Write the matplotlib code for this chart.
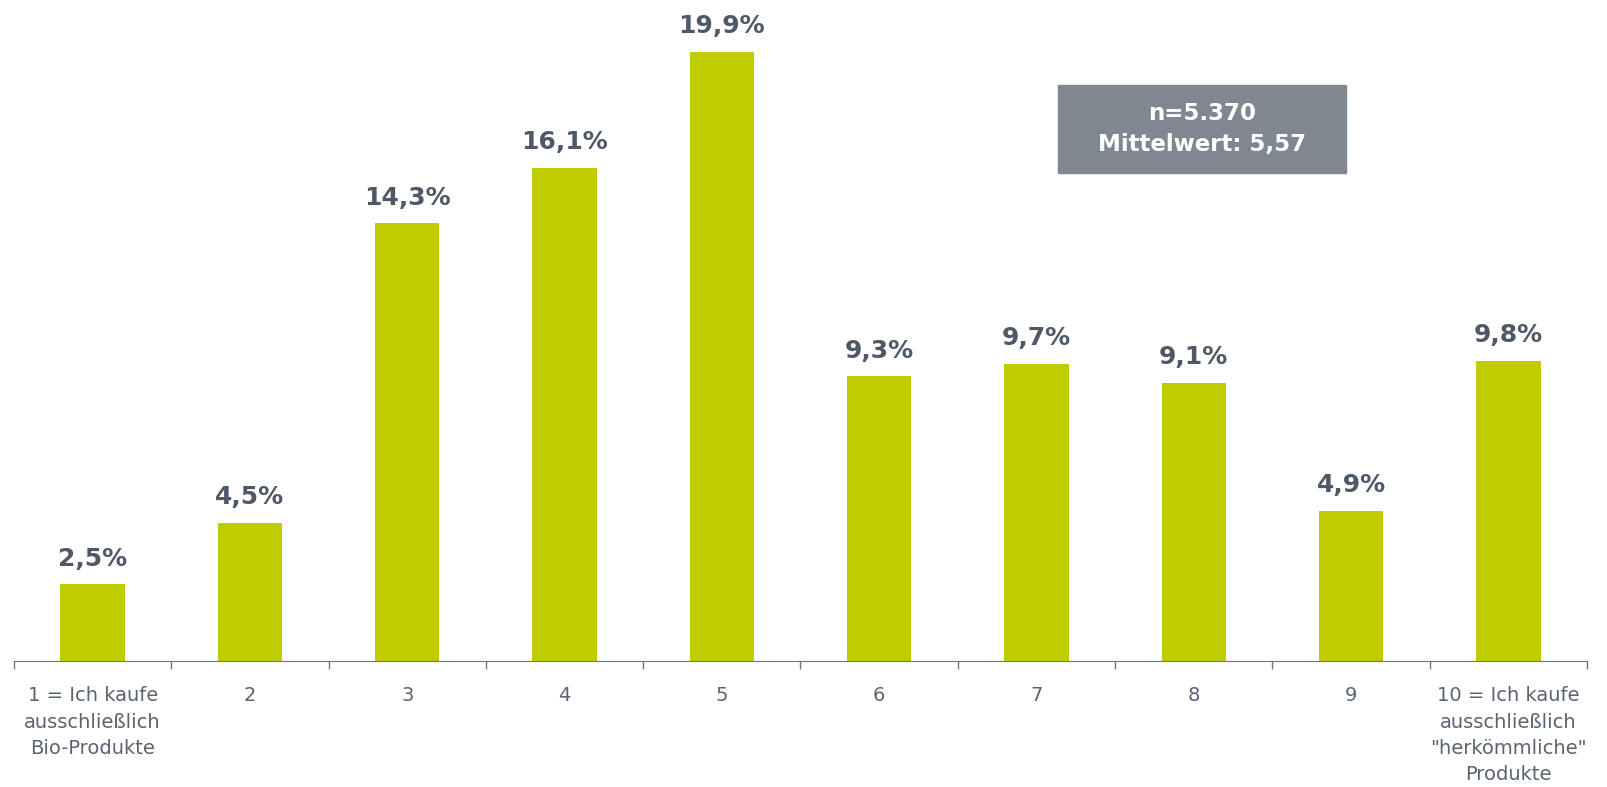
import numpy as np
import matplotlib.pyplot as plt

categories = ['1 = Ich kaufe\nausschließlich\nBio-Produkte', '2', '3', '4', '5', '6', '7', '8', '9',
              '10 = Ich kaufe\nausschließlich\n"herkömmliche"\nProdukte']
values = [2.5, 4.5, 14.3, 16.1, 19.9, 9.3, 9.7, 9.1, 4.9, 9.8]
value_labels = ['2,5%', '4,5%', '14,3%', '16,1%', '19,9%', '9,3%', '9,7%', '9,1%', '4,9%', '9,8%']
info_text = 'n=5.370\nMittelwert: 5,57'

bar_color = '#bfcd00'
text_color = '#4e5866'
axis_color = '#6e7682'

fig = plt.figure(figsize=(16.08, 7.87), dpi=100)
ax = fig.add_axes([14 / 1608, 1 - 661 / 787, 1573 / 1608, 661 / 787])

x = np.arange(len(values))
bars = ax.bar(x, values, width=0.41, color=bar_color)
for b, lab in zip(bars, value_labels):
    ax.annotate(lab, (b.get_x() + b.get_width() / 2, b.get_height()),
                xytext=(0, 10), textcoords='offset points', ha='center', va='bottom',
                fontsize=18, fontweight='bold', color=text_color)

ax.set_xlim(-0.5, len(values) - 0.5)
ax.set_ylim(0, 21.6)

ax.set_xticks(x)
ax.set_xticklabels(categories, fontsize=14, color='#5a6370', linespacing=1.5, va='top')
ax.tick_params(axis='x', which='major', length=0, pad=18)
ax.set_xticks(np.arange(-0.5, len(values)), minor=True)
ax.tick_params(axis='x', which='minor', length=6, color=axis_color, width=1)
ax.set_yticks([])

for s in ['top', 'right', 'left']:
    ax.spines[s].set_visible(False)
ax.spines['bottom'].set_color(axis_color)

fig.patches.append(plt.Rectangle((1058 / 1608, 1 - 173 / 787), 288 / 1608, 88 / 787,
                                 transform=fig.transFigure, color='#7f8790', zorder=0))
fig.text(1202 / 1608, 1 - 129 / 787, info_text, ha='center', va='center', fontsize=16.5,
         fontweight='bold', color='white', linespacing=1.5)

fig.savefig('out.png', dpi=100)
